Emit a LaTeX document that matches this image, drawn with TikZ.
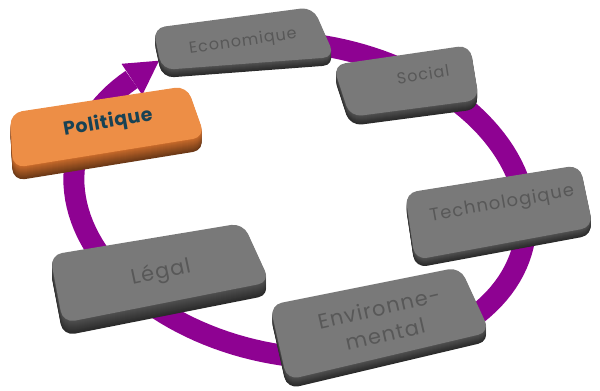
\documentclass[tikz,border=0pt]{standalone}
\usepackage{fontspec}
\newfontfamily\labelfont[LetterSpace=6]{Poppins}
\newfontfamily\keyfont[LetterSpace=3]{Poppins}
\definecolor{ringpurple}{RGB}{142,2,146}
\definecolor{slabgray}{RGB}{121,121,121}
\definecolor{slabside}{RGB}{78,78,78}
\definecolor{slaborange}{RGB}{237,142,70}
\definecolor{orangeside}{RGB}{196,104,42}
\definecolor{engrave}{RGB}{88,88,88}
\definecolor{keytext}{RGB}{24,66,84}

% a raised slab: corners tl, tr, br, bl, face colour, side colour, thickness
\newcommand\slab[7]{%
  \foreach \k in {#7,...,1}{%
    \pgfmathtruncatemacro\sidepct{100-45*(\k-1)/(#7-1)}%
    \fill[slabshape, fill=#6!\sidepct!black, shift={(0,\k)}]
      (#1) -- (#2) -- (#3) -- (#4) -- cycle;
  }%
  \fill[slabshape, fill=#5] (#1) -- (#2) -- (#3) -- (#4) -- cycle;
}

% grey caption on a slab: name, position, angle, size, leading, text
\newcommand\engraved[6]{%
  \node[caption, text=engrave, rotate=#3,
        font=\labelfont\fontsize{#4}{#5}\selectfont]
    (#1) at (#2) {#6};
}

\begin{document}
\begin{tikzpicture}[x=1bp, y=-1bp,
  slabshape/.style={rounded corners=12bp},
  ring/.style={line width=21bp, draw=ringpurple, line cap=butt},
  caption/.style={inner sep=0pt, align=center}]
\useasboundingbox (0,0) rectangle (600,390);

% the cycle ring, running clockwise and ending in an arrow head
\draw[ring] plot[domain=-125:215, samples=140, variable=\t]
  ({300+228*cos(\t)*cos(10)-156*sin(\t)*sin(10)},
   {200+228*cos(\t)*sin(10)+156*sin(\t)*cos(10)});
\coordinate (head-up) at (121.5,63.8);
\coordinate (head-tip) at (159,60.7);
\coordinate (head-low) at (142.3,95);
\fill[ringpurple] (head-up) -- (head-tip) -- (head-low) -- cycle;

% slabs
\slab{153,28}{313,7}{335,57}{162,70}{slabgray}{slabside}{8}
\slab{333,65}{470,45}{479,100}{350,117}{slabgray}{slabside}{9}
\slab{405,193}{580,165}{593,227}{415,260}{slabgray}{slabside}{8}
\slab{50,255}{243,223}{270,282}{63,323}{slabgray}{slabside}{13}
\slab{270,305}{460,267}{490,332}{287,380}{slabgray}{slabside}{9}
\slab{10,113}{187,86}{205,137}{13,168}{slaborange}{orangeside}{13}

% captions
\engraved{eco}{243,42}{8}{16}{18}{Economique}
\engraved{soc}{423,74}{9}{16}{18}{Social}
\engraved{tech}{502,204}{10}{18}{20}{Technologique}
\engraved{env}{382,321}{13}{21}{27}{Environne-\\mental}
\engraved{leg}{161,273}{12}{21}{24}{Légal}
\node[caption, text=keytext, rotate=10,
      font=\keyfont\bfseries\fontsize{19}{21}\selectfont]
  (pol) at (108,123) {Politique};
\end{tikzpicture}
\end{document}
